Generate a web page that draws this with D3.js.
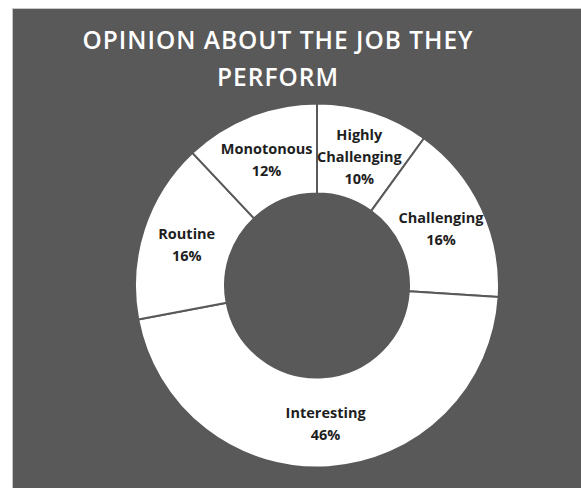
<!DOCTYPE html>
<html>
<head>
<meta charset="utf-8">
<script src="https://cdn.jsdelivr.net/npm/d3@7"></script>
<style>
  html, body { margin: 0; padding: 0; background: #ffffff; }
  svg { display: block; }
</style>
</head>
<body>
<svg id="chart" width="581" height="488"></svg>
<script>
// Survey answers, clockwise from 12 o'clock
const categories = ["Highly\nChallenging", "Challenging", "Interesting", "Routine", "Monotonous"];
const shares = [10, 16, 46, 16, 12];
const titleLines = ["OPINION ABOUT THE JOB THEY", "PERFORM"];

const svg = d3.select("#chart");
const W = 581, H = 488;

// dark panel with a thin light rim
svg.append("rect")
  .attr("x", 12.5).attr("y", 8.5)
  .attr("width", W).attr("height", H)
  .attr("fill", "#595959")
  .attr("stroke", "#c8c8c8").attr("stroke-width", 1);

// title
const title = svg.append("text")
  .attr("text-anchor", "middle")
  .attr("fill", "#ffffff")
  .attr("font-family", "'Open Sans', sans-serif")
  .attr("font-weight", 600)
  .attr("font-size", 24.5)
  .attr("letter-spacing", 1);
titleLines.forEach((t, i) => {
  title.append("tspan").attr("x", 278).attr("y", 49 + i * 37).text(t);
});

// donut
const cx = 317, cy = 285.5, rOuter = 182, rInner = 92;
const data = categories.map((c, i) => ({ label: c, value: shares[i] }));

const pie = d3.pie().value(d => d.value).sort(null).startAngle(0).endAngle(2 * Math.PI);
const arc = d3.arc().innerRadius(rInner).outerRadius(rOuter);
const arcs = pie(data);

const g = svg.append("g").attr("transform", `translate(${cx},${cy})`);

g.selectAll("path.slice")
  .data(arcs)
  .join("path")
  .attr("class", "slice")
  .attr("d", arc)
  .attr("fill", "#ffffff")
  .attr("stroke", "#595959")
  .attr("stroke-width", 2)
  .attr("stroke-linejoin", "round");

// labels: category name + percentage, centred on the ring
const lineH = 22;
g.selectAll("text.lbl")
  .data(arcs)
  .join("text")
  .attr("class", "lbl")
  .attr("text-anchor", "middle")
  .attr("fill", "#1e1e1e")
  .attr("font-family", "'Open Sans', sans-serif")
  .attr("font-weight", 700)
  .attr("font-size", 14.5)
  .each(function (d) {
    const [x, y] = arc.centroid(d);
    const lines = d.data.label.split("\n").concat(d.data.value + "%");
    const top = y - ((lines.length - 1) * lineH) / 2 + 7;
    const t = d3.select(this);
    lines.forEach((ln, i) => {
      t.append("tspan").attr("x", x).attr("y", top + i * lineH).text(ln);
    });
  });
</script>
</body>
</html>
